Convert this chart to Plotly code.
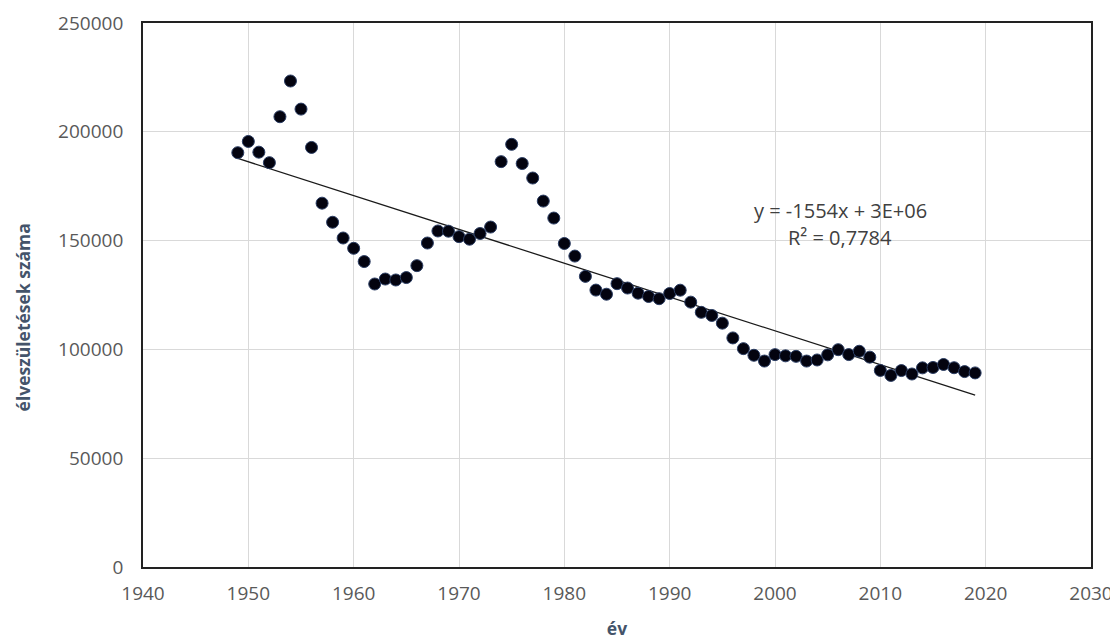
import numpy as np
import plotly.graph_objects as go

years = list(range(1949, 2020))
births = [190398, 195567, 190645, 185820, 206926, 223347, 210430, 192810, 167202, 158428,
          151194, 146461, 140365, 130053, 132335, 131899, 133009, 138489, 148886, 154419,
          154318, 151819, 150640, 153265, 156224, 186288, 194240, 185405, 178758, 168160,
          160364, 148673, 142890, 133559, 127258, 125359, 130200, 128204, 125840, 124296,
          123304, 125679, 127207, 121724, 117033, 115598, 112054, 105272, 100350, 97301,
          94645, 97597, 97047, 96804, 94647, 95137, 97496, 99871, 97613, 99149,
          96442, 90335, 88049, 90269, 88689, 91510, 91690, 93063, 91577, 89807, 89193]

x_ticks = list(range(1940, 2031, 10))
y_ticks = list(range(0, 250001, 50000))

slope, intercept = np.polyfit(years, births, 1)
trend_x = [years[0], years[-1]]
trend_y = [slope * v + intercept for v in trend_x]

FONT = "Open Sans, Liberation Sans, sans-serif"

fig = go.Figure()
fig.add_trace(go.Scatter(x=trend_x, y=trend_y, mode="lines",
                         line=dict(color="#1a1a1a", width=1.3), hoverinfo="skip",
                         showlegend=False))
fig.add_trace(go.Scatter(x=years, y=births, mode="markers",
                         marker=dict(size=12, color="#03030f",
                                     line=dict(color="#2b3d63", width=1)),
                         showlegend=False))

fig.add_annotation(x=2006.2, y=164000, text="y = -1554x + 3E+06", showarrow=False,
                   font=dict(family=FONT, size=20, color="#404040"))
fig.add_annotation(x=2006.2, y=151200, text="R² = 0,7784", showarrow=False,
                   font=dict(family=FONT, size=20, color="#404040"))

tick_font = dict(family=FONT, size=19, color="#595959")
title_font = dict(family=FONT, size=17.5, color="#44546A")

# y-axis title (placed as rotated annotation to match reference position)
fig.add_annotation(xref="paper", yref="paper", x=-0.127, y=0.458,
                   text="<b>élveszületések száma</b>", textangle=-90, showarrow=False,
                   xanchor="center", yanchor="middle", borderpad=0, font=title_font)

fig.update_xaxes(range=[1940, 2030], tickvals=x_ticks, ticktext=[str(v) for v in x_ticks],
                 showgrid=True, gridcolor="#d9d9d9", gridwidth=1,
                 showline=True, linecolor="#222222", linewidth=1.8, mirror=True,
                 ticks="outside", ticklen=8, tickcolor="rgba(0,0,0,0)",
                 zeroline=False, tickfont=tick_font, automargin=False,
                 ticklabeloverflow="allow",
                 title=dict(text="<b>év</b>", font=title_font, standoff=26))
fig.update_yaxes(range=[0, 250000], tickvals=y_ticks, ticktext=[str(v) for v in y_ticks],
                 showgrid=True, gridcolor="#d9d9d9", gridwidth=1,
                 showline=True, linecolor="#222222", linewidth=1.8, mirror=True,
                 ticks="outside", ticklen=14, tickcolor="rgba(0,0,0,0)",
                 zeroline=False, tickfont=tick_font, automargin=False)

fig.update_layout(width=1106, height=632, margin=dict(l=135, r=23, t=15, b=73),
                  plot_bgcolor="white", paper_bgcolor="white")

fig.write_html("out.html")
